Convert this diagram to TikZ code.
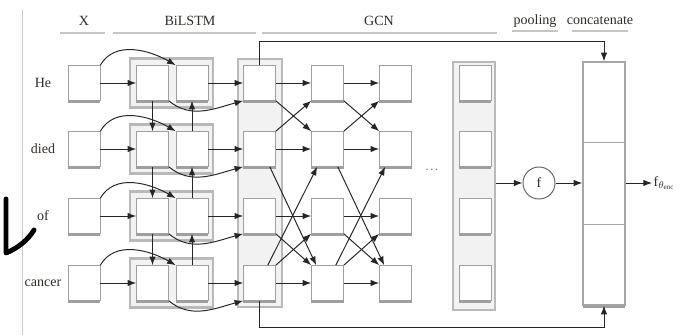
\documentclass[tikz,border=0pt]{standalone}
\usepackage{fontspec}
\setmainfont{Liberation Serif}
\usetikzlibrary{arrows.meta,calc,shadows}

\definecolor{ink}{RGB}{50,45,40}
\tikzset{
  cell/.style={draw=gray!75, fill=white, minimum width=0.8cm, minimum height=0.875cm, inner sep=0pt,
    drop shadow={shadow xshift=0pt, shadow yshift=-1.8pt, fill=gray!75, opacity=1}},
  frame/.style={draw=gray!55, line width=1.6pt, fill=gray!10, inner sep=0pt},
  word/.style={text=ink},
  rule/.style={draw=gray!45, line width=1pt},
  link/.style={->, line width=0.7pt, black!85},
}

\begin{document}
\begin{tikzpicture}[>=Latex, x=0.025cm, y=-0.025cm]
  \useasboundingbox (0,0) rectangle (692,335);
  \draw[gray!45] (22,10) -- (22,335);
  \draw[line width=3.5pt, line cap=round, line join=round] (6,199) -- (6,253) .. controls (18,248) and (28,240) .. (34,230);

  \node[word] (hx) at (84,21) {X};
  \node[word] (hbi) at (190,21) {BiLSTM};
  \node[word] (hgcn) at (379,21) {GCN};
  \node[word] (hpool) at (535,21) {pooling};
  \node[word] (hcat) at (600,21) {concatenate};
  \draw[rule] (60,33) -- (105,33);
  \draw[rule] (113,33) -- (256,33);
  \draw[rule] (262,33) -- (497,33);
  \draw[rule] (512,31) -- (558,31);
  \draw[rule] (572,31) -- (628,31);

  \foreach \i/\y in {1/83,2/149,3/216,4/283}
    \node[frame, minimum width=2.075cm, minimum height=1.225cm] (lstm\i) at (171.5,\y) {};
  \node[frame, minimum width=1.1cm, minimum height=6.2cm] (gcn) at (260,183) {};
  \node[frame, minimum width=1.05cm, minimum height=6.2cm] (pool) at (474,186) {};

  \foreach \i/\y/\w in {1/83/He,2/149/died,3/216/of,4/283/cancer} {
    \node[word] (w\i) at (43,\y) {\w};
    \node[cell] (x\i) at (84,\y) {};
    \node[cell] (lf\i) at (152.5,\y) {};
    \node[cell] (lb\i) at (192,\y) {};
    \node[cell] (ga\i) at (259.5,\y) {};
    \node[cell] (gb\i) at (327.5,\y) {};
    \node[cell] (gc\i) at (395.5,\y) {};
    \node[cell] (p\i) at (475,\y) {};
    \draw[link] (x\i) -- (lf\i);
    \draw[link] (x\i.north east) to[out=60,in=150] (lb\i.north west);
    \draw[link] (lb\i) -- (ga\i);
    \draw[link] (lf\i.south east) to[out=-40,in=195] (ga\i.south west);
    \draw[link] (ga\i) -- (gb\i);
    \draw[link] (gb\i) -- (gc\i);
  }
  \foreach \i/\j in {1/2,2/3,3/4} {
    \draw[link] (lf\i) -- (lf\j);
    \draw[link] (lb\j) -- (lb\i);
  }
  \foreach \s/\t in {ga/gb,gb/gc} {
    \draw[link] (\s1.south east) -- (\t2.north west);
    \draw[link] (\s2.north east) -- (\t1.south west);
    \draw[link] ($(\s2.south east)+(-6,0)$) -- ($(\t4.north west)+(5,0)$);
    \draw[link] ($(\s4.north east)+(-8,0)$) -- ($(\t2.south west)+(6,0)$);
    \draw[link] (\s3.south east) -- (\t4.north west);
    \draw[link] (\s4.north east) -- (\t3.south west);
  }
  \node[text=gray] (dots) at (432,170) {\dots};

  \node[circle, draw=gray!80!black, line width=0.7pt, minimum size=0.8cm, inner sep=0pt, text=ink] (f) at (539,183) {f};
  \node[draw=gray!70, line width=1pt, fill=white, minimum width=1.05cm, minimum height=6.075cm, inner sep=0pt,
    drop shadow={shadow xshift=0pt, shadow yshift=-1.8pt, fill=gray!75, opacity=1}] (cat) at (604,183.5) {};
  \draw[gray!70, line width=1pt] ($(cat.north west)!1/3!(cat.south west)$) -- ($(cat.north east)!1/3!(cat.south east)$);
  \draw[gray!70, line width=1pt] ($(cat.north west)!2/3!(cat.south west)$) -- ($(cat.north east)!2/3!(cat.south east)$);
  \node[anchor=west, inner sep=1pt, text=ink] (out) at (652,183) {f$_{\theta_{\mathrm{enc}}}$};

  \coordinate (top) at (604,41);
  \coordinate (bot) at (604,327);
  \draw[link] (ga1.north) |- (top) -- (cat.north);
  \draw[link] (ga4.south) |- (bot) -- (cat.south);
  \draw[link] (pool.east |- f) -- (f);
  \draw[link] (f) -- (cat.west |- f);
  \draw[link] (cat.east |- f) -- (out.west);
\end{tikzpicture}
\end{document}
